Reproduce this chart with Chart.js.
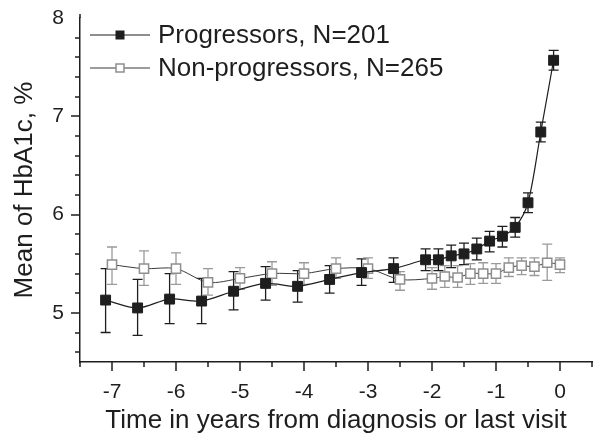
<!DOCTYPE html>
<html>
<head>
<meta charset="utf-8">
<script src="https://cdn.jsdelivr.net/npm/chart.js@4.4.0/dist/chart.umd.min.js"></script>
<style>
  html, body { margin: 0; padding: 0; background: #fff; }
</style>
</head>
<body>
<canvas id="hba1cChart" width="600" height="438"></canvas>
<script>
// years before diagnosis (progressors) / last visit (non-progressors)
const progYears = [-7.1, -6.6, -6.1, -5.6, -5.1, -4.6, -4.1, -3.6, -3.1, -2.6, -2.1, -1.9, -1.7, -1.5, -1.3, -1.1, -0.9, -0.7, -0.5, -0.3, -0.1];
const progMean = [5.13, 5.05, 5.14, 5.12, 5.22, 5.30, 5.27, 5.34, 5.41, 5.45, 5.54, 5.54, 5.58, 5.60, 5.65, 5.73, 5.78, 5.87, 6.12, 6.84, 7.57];
const progLow = [4.80, 4.77, 4.89, 4.89, 5.03, 5.13, 5.11, 5.20, 5.28, 5.31, 5.43, 5.43, 5.46, 5.49, 5.54, 5.62, 5.67, 5.77, 6.02, 6.74, 7.47];
const progHigh = [5.45, 5.34, 5.40, 5.35, 5.42, 5.47, 5.43, 5.48, 5.55, 5.56, 5.65, 5.65, 5.69, 5.71, 5.76, 5.83, 5.88, 5.97, 6.22, 6.94, 7.67];

const nonYears = [-7.0, -6.5, -6.0, -5.5, -5.0, -4.5, -4.0, -3.5, -3.0, -2.5, -2.0, -1.8, -1.6, -1.4, -1.2, -1.0, -0.8, -0.6, -0.4, -0.2, 0.0];
const nonMean = [5.49, 5.45, 5.45, 5.31, 5.35, 5.40, 5.40, 5.45, 5.45, 5.34, 5.35, 5.37, 5.36, 5.40, 5.40, 5.40, 5.46, 5.48, 5.47, 5.51, 5.49];
const nonLow = [5.29, 5.28, 5.29, 5.18, 5.24, 5.28, 5.29, 5.35, 5.35, 5.23, 5.24, 5.26, 5.26, 5.29, 5.30, 5.30, 5.37, 5.39, 5.38, 5.33, 5.41];
const nonHigh = [5.67, 5.63, 5.61, 5.45, 5.46, 5.52, 5.51, 5.56, 5.56, 5.42, 5.46, 5.48, 5.48, 5.50, 5.51, 5.50, 5.56, 5.56, 5.56, 5.70, 5.56];

const xTicks = [-7, -6, -5, -4, -3, -2, -1, 0];
const yTicks = [5, 6, 7, 8];

const FONT = '"Liberation Sans", Arial, Helvetica, sans-serif';
const INK = '#1e1e1e';

function toPoints(xs, ys) {
  return xs.map((v, i) => ({ x: v, y: ys[i] }));
}

// vertical error bars with caps, drawn under the markers
const errorBars = {
  id: 'errorBars',
  beforeDatasetsDraw(chart) {
    const { ctx, scales: { x, y } } = chart;
    chart.data.datasets.forEach(ds => {
      ctx.save();
      ctx.strokeStyle = ds.errColor;
      ctx.lineWidth = 1.3;
      ctx.beginPath();
      ds.data.forEach((p, i) => {
        const px = x.getPixelForValue(p.x);
        const top = y.getPixelForValue(ds.errHigh[i]);
        const bot = y.getPixelForValue(ds.errLow[i]);
        ctx.moveTo(px, top); ctx.lineTo(px, bot);
        ctx.moveTo(px - 5, top); ctx.lineTo(px + 5, top);
        ctx.moveTo(px - 5, bot); ctx.lineTo(px + 5, bot);
      });
      ctx.stroke();
      ctx.restore();
    });
  }
};

// outward major/minor tick marks, plus the bit of y axis above the top value
const axisTicks = {
  id: 'axisTicks',
  afterDraw(chart) {
    const { ctx, chartArea: a, scales: { x, y } } = chart;
    ctx.save();
    ctx.strokeStyle = INK;
    ctx.lineWidth = 1.5;
    ctx.beginPath();
    ctx.moveTo(a.left, a.top); ctx.lineTo(a.left, a.top - 4);
    for (let k = 0; k <= 16; k++) {
      const v = x.min + k * 0.5;
      const px = Math.round(x.getPixelForValue(v));
      const len = Math.abs(v - Math.round(v)) < 1e-6 ? 9 : 5;
      ctx.moveTo(px, a.bottom); ctx.lineTo(px, a.bottom + len);
    }
    for (let k = 1; k <= 17; k++) {
      const v = 4.4 + k * 0.2;
      const py = Math.round(y.getPixelForValue(v));
      const len = Math.abs(v - Math.round(v)) < 1e-6 ? 9 : 5;
      ctx.moveTo(a.left, py); ctx.lineTo(a.left - len, py);
    }
    ctx.stroke();
    ctx.restore();
  }
};

// legend with the line running through the marker
const lineLegend = {
  id: 'lineLegend',
  afterDraw(chart) {
    const { ctx, chartArea: a } = chart;
    ctx.save();
    ctx.font = '26px ' + FONT;
    ctx.textBaseline = 'middle';
    chart.data.datasets.forEach((ds, i) => {
      const cy = a.top + 17 + i * 33;
      const x0 = a.left + 10;
      ctx.strokeStyle = ds.borderColor;
      ctx.lineWidth = 1.2;
      ctx.beginPath();
      ctx.moveTo(x0, cy); ctx.lineTo(x0 + 60, cy);
      ctx.stroke();
      ctx.fillStyle = ds.pointBackgroundColor;
      ctx.strokeStyle = ds.pointBorderColor;
      ctx.lineWidth = ds.pointBorderWidth;
      ctx.fillRect(x0 + 26, cy - 4, 8, 8);
      ctx.strokeRect(x0 + 26, cy - 4, 8, 8);
      ctx.fillStyle = INK;
      ctx.fillText(ds.label, x0 + 68, cy + 1);
    });
    ctx.restore();
  }
};

const ctx = document.getElementById('hba1cChart').getContext('2d');

new Chart(ctx, {
  type: 'line',
  data: {
    datasets: [
      {
        label: 'Progressors, N=201',
        data: toPoints(progYears, progMean),
        errLow: progLow,
        errHigh: progHigh,
        errColor: '#1e1e1e',
        borderColor: '#1e1e1e',
        borderWidth: 1.2,
        tension: 0.3,
        pointStyle: 'rect',
        pointRadius: 7,
        pointBackgroundColor: '#1e1e1e',
        pointBorderColor: '#1e1e1e',
        pointBorderWidth: 1,
        clip: false
      },
      {
        label: 'Non-progressors, N=265',
        data: toPoints(nonYears, nonMean),
        errLow: nonLow,
        errHigh: nonHigh,
        errColor: '#9a9a9a',
        borderColor: '#3a3a3a',
        borderWidth: 1,
        tension: 0.3,
        pointStyle: 'rect',
        pointRadius: 6.5,
        pointBackgroundColor: '#ffffff',
        pointBorderColor: '#8e8e8e',
        pointBorderWidth: 1.5,
        clip: false
      }
    ]
  },
  options: {
    responsive: false,
    animation: false,
    layout: { padding: { top: 18, right: 0, bottom: 0, left: 0 } },
    plugins: {
      legend: { display: false },
      tooltip: { enabled: false }
    },
    scales: {
      x: {
        type: 'linear',
        min: -7.5,
        max: 0.5,
        afterBuildTicks: s => { s.ticks = xTicks.map(v => ({ value: v })); },
        afterFit: s => { s.height = 76; },
        grid: { display: false, drawTicks: false },
        border: { display: true, color: INK, width: 1.5 },
        ticks: { padding: 18, color: INK, font: { family: FONT, size: 21 } },
        title: {
          display: true,
          text: 'Time in years from diagnosis or last visit',
          color: INK,
          font: { family: FONT, size: 26 },
          padding: { top: 0, bottom: 2 }
        }
      },
      y: {
        min: 4.5,
        max: 8,
        afterBuildTicks: s => { s.ticks = yTicks.map(v => ({ value: v })); },
        afterFit: s => { s.width = 80; },
        // hidden tick length keeps the labels off the axis without adding top padding
        grid: { display: false, drawTicks: true, tickLength: 16 },
        border: { display: true, color: INK, width: 1.5 },
        ticks: { padding: 0, color: INK, font: { family: FONT, size: 21 } },
        title: {
          display: true,
          text: 'Mean of HbA1c, %',
          color: INK,
          font: { family: FONT, size: 26 },
          padding: { top: 9, bottom: 0 }
        }
      }
    }
  },
  plugins: [errorBars, axisTicks, lineLegend]
});
</script>
</body>
</html>
